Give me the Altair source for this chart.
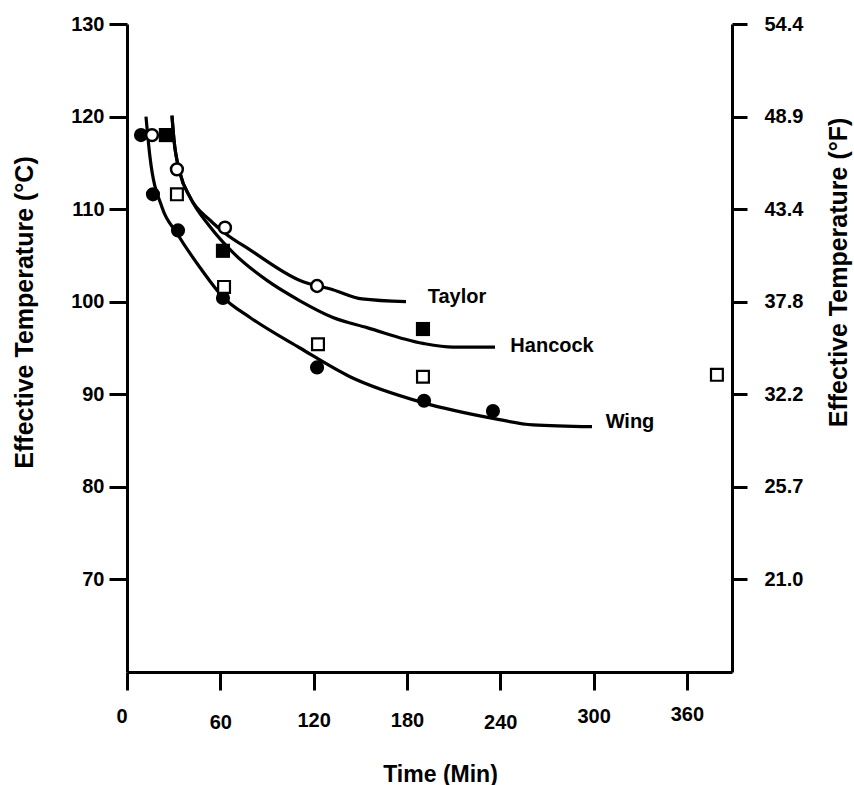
import altair as alt
import pandas as pd

# ---- fitted curves (time in min, effective temperature) ----
wing_t = [12.2, 14.8, 22.5, 32.1, 46.9, 61.7, 79.1, 111.2, 143.4, 190.3, 235.3, 261.0, 299.0]
wing_v = [120.0, 115.6, 110.2, 107.4, 103.7, 100.5, 98.3, 95.0, 91.9, 89.1, 87.4, 86.7, 86.5]
taylor_t = [28.9, 30.2, 34.1, 40.5, 53.4, 63.0, 79.1, 111.2, 132.4, 151.1, 179.4]
taylor_v = [120.1, 117.5, 113.9, 111.3, 108.8, 107.4, 105.6, 102.3, 101.3, 100.3, 100.0]
hancock_t = [28.9, 30.2, 34.1, 40.5, 53.4, 68.2, 90.0, 111.2, 132.4, 154.3, 190.3, 209.6, 236.6]
hancock_v = [120.1, 117.5, 113.9, 111.3, 108.1, 105.3, 102.3, 100.1, 98.3, 97.2, 95.5, 95.1, 95.1]

# ---- observed points ----
filled_circle_t = [9.0, 16.7, 32.8, 61.7, 122.2, 191.0, 235.3]
filled_circle_v = [118.0, 111.6, 107.7, 100.4, 92.9, 89.3, 88.2]
open_circle_t = [16.1, 32.1, 63.0, 122.2]
open_circle_v = [118.0, 114.3, 108.0, 101.7]
filled_square_t = [25.0, 61.7, 190.3]
filled_square_v = [118.0, 105.5, 97.05]
open_square_t = [32.1, 62.4, 122.8, 190.3, 379.3]
open_square_v = [111.6, 101.6, 95.4, 91.9, 92.1]

# ---- curve labels ----
label_text = ["Taylor", "Hancock", "Wing"]
label_t = [212.2, 273.3, 323.4]
label_v = [100.5, 95.2, 87.0]

# ---- axes ----
x_ticks = [0, 60, 120, 180, 240, 300, 360]
y_ticks = [130, 120, 110, 100, 90, 80, 70]
right_labels = ["54.4", "48.9", "43.4", "37.8", "32.2", "25.7", "21.0"]

FONT = "Liberation Sans"

lines_df = pd.concat([
    pd.DataFrame({"t": wing_t, "v": wing_v, "curve": "Wing"}),
    pd.DataFrame({"t": taylor_t, "v": taylor_v, "curve": "Taylor"}),
    pd.DataFrame({"t": hancock_t, "v": hancock_v, "curve": "Hancock"}),
])
fc_df = pd.DataFrame({"t": filled_circle_t, "v": filled_circle_v})
oc_df = pd.DataFrame({"t": open_circle_t, "v": open_circle_v})
fs_df = pd.DataFrame({"t": filled_square_t, "v": filled_square_v})
os_df = pd.DataFrame({"t": open_square_t, "v": open_square_v})
lab_df = pd.DataFrame({"t": label_t, "v": label_v, "label": label_text})
right_df = pd.DataFrame({"v": y_ticks, "label": right_labels})

xscale = alt.Scale(domain=[0, 389], nice=False, zero=False)
yscale = alt.Scale(domain=[60, 130], nice=False, zero=False)

pad_cond = [
    {"test": "datum.value === 60", "value": 32},
    {"test": "datum.value === 120", "value": 30},
    {"test": "datum.value === 180", "value": 30},
    {"test": "datum.value === 240", "value": 32},
    {"test": "datum.value === 360", "value": 24},
]

x_axis = alt.Axis(
    values=x_ticks, title="Time (Min)", grid=False,
    domainColor="black", domainWidth=3, tickColor="black", tickWidth=3, tickSize=18,
    labelFont=FONT, labelFontSize=20, labelFontWeight="bold", labelColor="black",
    labelBaseline="middle",
    labelPadding={"condition": pad_cond, "value": 26},
    labelOffset={"condition": {"test": "datum.value === 0", "value": -11}, "value": 0},
    titleFont=FONT, titleFontSize=23, titleFontWeight="bold", titleColor="black",
    titleX=313, titleY=102, titleBaseline="middle", titleAnchor="middle",
)
y_axis = alt.Axis(
    values=y_ticks, title="Effective Temperature (\u00b0C)", grid=False, orient="left",
    domainColor="black", domainWidth=3, tickColor="black", tickWidth=3, tickSize=18,
    labelFont=FONT, labelFontSize=20, labelFontWeight="bold", labelColor="black",
    labelPadding=5,
    titleFont=FONT, titleFontSize=25, titleFontWeight="bold", titleColor="black",
    titleX=-103, titleY=288, titleAngle=270, titleBaseline="middle", titleAnchor="middle",
)
label_map = "{" + ", ".join(f"'{v}': '{l}'" for v, l in zip(y_ticks, right_labels)) + "}"
y_axis_r = alt.Axis(
    values=y_ticks, title="Effective Temperature (\u00b0F)", grid=False, orient="right",
    labelExpr=f"{label_map}[toString(datum.value)]",
    domainColor="black", domainWidth=3, tickColor="black", tickWidth=3, tickSize=15,
    labelFont=FONT, labelFontSize=20, labelFontWeight="bold", labelColor="black",
    labelPadding=17,
    titleFont=FONT, titleFontSize=25, titleFontWeight="bold", titleColor="black",
    titleX=106, titleY=248, titleAngle=270, titleBaseline="middle", titleAnchor="middle",
)

X = alt.X("t:Q", scale=xscale, axis=x_axis)
Y = alt.Y("v:Q", scale=yscale, axis=y_axis)

lines = alt.Chart(lines_df).mark_line(
    color="black", strokeWidth=3.2, interpolate="monotone"
).encode(x=X, y=Y, detail="curve:N")

fc = alt.Chart(fc_df).mark_point(
    shape="circle", filled=True, fill="black", stroke="black", strokeWidth=0, size=200, opacity=1
).encode(x=X, y=Y)
oc = alt.Chart(oc_df).mark_point(
    shape="circle", filled=True, fill="white", stroke="black", strokeWidth=2.5, size=140, opacity=1
).encode(x=X, y=Y)
fs = alt.Chart(fs_df).mark_point(
    shape="square", filled=True, fill="black", stroke="black", strokeWidth=0, size=200, opacity=1
).encode(x=X, y=Y)
osq = alt.Chart(os_df).mark_point(
    shape="square", filled=True, fill="white", stroke="black", strokeWidth=2.2, size=140, opacity=1
).encode(x=X, y=Y)

labels = alt.Chart(lab_df).mark_text(
    font=FONT, fontSize=20, fontWeight="bold", color="black", align="center", baseline="middle"
).encode(x=X, y=Y, text="label:N")

right = alt.Chart(right_df).mark_point(opacity=0).encode(
    y=alt.Y("v:Q", scale=yscale, axis=y_axis_r)
)

main = alt.layer(lines, fc, oc, fs, osq, labels)

chart = alt.layer(main, right).resolve_scale(y="independent").properties(
    width=605, height=648,
    autosize=alt.AutoSizeParams(type="none"),
    padding={"left": 127, "top": 24, "right": 122, "bottom": 113},
    background="white",
).configure_view(stroke="transparent")

chart.save("out.html", embed_options={"renderer": "svg", "actions": False})
